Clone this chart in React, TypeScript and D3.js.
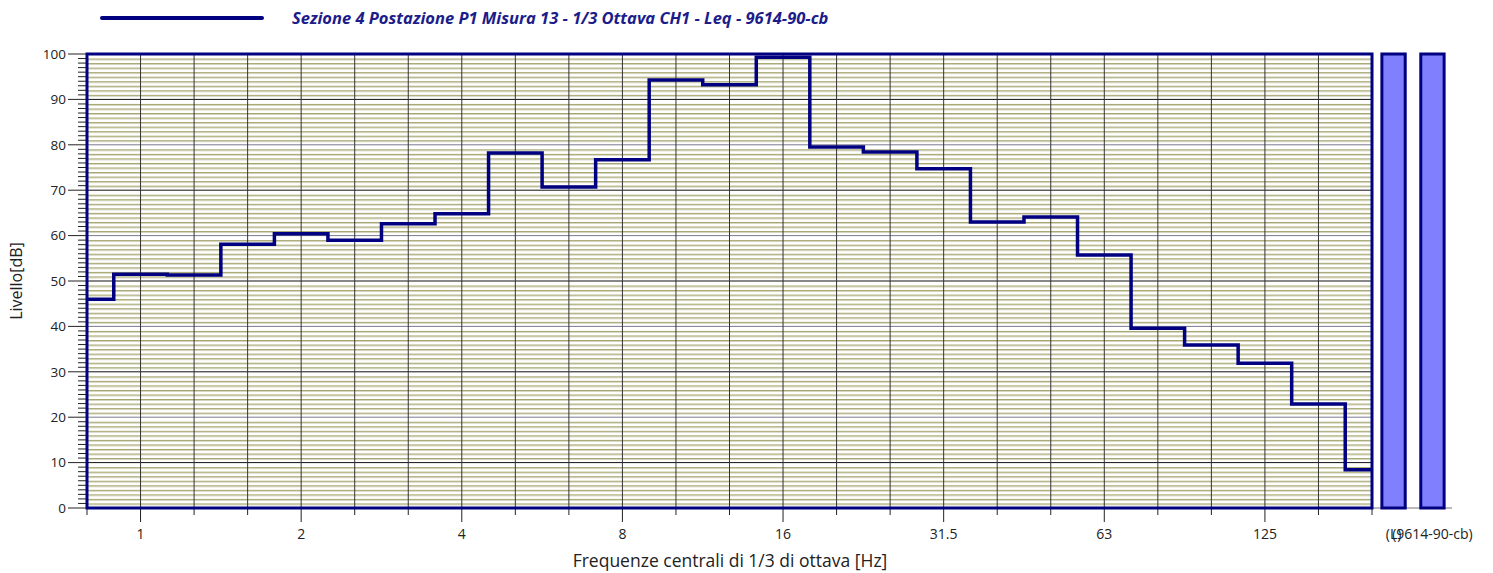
import React from "react";
import * as d3 from "d3";

const bands = ["0.8","1","1.25","1.6","2","2.5","3.15","4","5","6.3","8","10","12.5","16","20","25","31.5","40","50","63","80","100","125","160","200"];
const levels = [46.0,51.5,51.3,58.1,60.4,59.0,62.6,64.8,78.2,70.7,76.7,94.3,93.2,99.3,79.5,78.4,74.7,63.0,64.1,55.7,39.6,35.9,31.9,22.9,8.4];
const labeledBands = ["1","2","4","8","16","31.5","63","125"];
const totalLabels = ["(L)", "(9614-90-cb)"];
const totalValues = [100, 100];
const yMajorTicks = [0,10,20,30,40,50,60,70,80,90,100];
const legendText = "Sezione 4 Postazione P1 Misura 13 - 1/3 Ottava CH1 - Leq - 9614-90-cb";

const W = 1493, H = 573;
const L = 87, R = 1372, T = 54, B = 508;
const FONT = "'Open Sans', 'DejaVu Sans', sans-serif";
const NAVY = "#000080";

export default function App() {
  const x = d3.scaleLinear().domain([0, bands.length - 1]).range([L, R]);
  const y = d3.scaleLinear().domain([0, 100]).range([B, T]);
  const xt = d3.scaleBand().domain(totalLabels).range([1378, 1448]).paddingInner(0.4).paddingOuter(0.1);

  const clamp = (v: number) => Math.max(L, Math.min(R, v));
  const pts: [number, number][] = [];
  levels.forEach((v, i) => {
    pts.push([clamp(x(i - 0.5)), y(v)]);
    pts.push([clamp(x(i + 0.5)), y(v)]);
  });
  const line = d3.line<[number, number]>().x(d => d[0]).y(d => d[1]);

  const minor = d3.range(1, 100).filter(v => v % 10 !== 0);

  return (
    <svg width={W} height={H} style={{ position: "absolute", left: 0, top: 0 }} fontFamily={FONT}>
      <rect width={W} height={H} fill="#fff" />
      {/* legend */}
      <line x1={102} x2={262} y1={18} y2={18} stroke={NAVY} strokeWidth={4} strokeLinecap="round" />
      <text x={292} y={24} fontSize={16.5} fontWeight="bold" fontStyle="italic" fill="#1c1c8a">{legendText}</text>

      {/* minor horizontal grid */}
      {minor.map(v => (
        <g key={v}>
          <line x1={L} x2={R} y1={y(v) + 1.5} y2={y(v) + 1.5} stroke="#d6d6c4" strokeWidth={1} />
          <line x1={L} x2={R} y1={y(v) + 0.5} y2={y(v) + 0.5} stroke="#9a9a5a" strokeWidth={0.9} />
        </g>
      ))}
      {yMajorTicks.map(v => (
        <line key={v} x1={L} x2={R} y1={y(v)} y2={y(v)} stroke={v % 20 === 0 ? "#7a7a90" : "#111"} strokeWidth={1} />
      ))}
      {/* vertical grid */}
      {bands.map((b, i) => (
        <line key={b} x1={x(i)} x2={x(i)} y1={T} y2={B} stroke="#333" strokeWidth={1} />
      ))}

      {/* y ticks */}
      {d3.range(0, 101).map(v => (
        <line key={v} x1={v % 10 === 0 ? 68 : 78} x2={L} y1={y(v)} y2={y(v)} stroke="#222" strokeWidth={1} />
      ))}
      {yMajorTicks.map(v => (
        <text key={v} x={66} y={y(v)} dy="0.35em" textAnchor="end" fontSize={13.5} fill="#222">{v}</text>
      ))}

      {/* x ticks */}
      <line x1={L} x2={1452} y1={B} y2={B} stroke="#777" strokeWidth={1} />
      {bands.map((b, i) => {
        const lab = labeledBands.includes(b);
        return (
          <g key={b}>
            <line x1={x(i)} x2={x(i)} y1={B} y2={lab ? 522 : 515} stroke="#222" strokeWidth={1} />
            {lab && <text x={x(i)} y={539} textAnchor="middle" fontSize={14} fill="#222">{b}</text>}
          </g>
        );
      })}
      {totalLabels.map(t => (
        <text key={t} x={xt(t)! + xt.bandwidth() / 2} y={539} textAnchor="middle" fontSize={14} fill="#222">{t}</text>
      ))}

      {/* plot border */}
      <rect x={L} y={T} width={R - L} height={B - T} fill="none" stroke={NAVY} strokeWidth={3} />

      {/* step line */}
      <path d={line(pts) || ""} fill="none" stroke={NAVY} strokeWidth={3.5} strokeLinejoin="miter" />

      {/* total bars */}
      {totalLabels.map((t, i) => (
        <rect key={t} x={xt(t)!} y={y(totalValues[i])} width={xt.bandwidth()} height={B - y(totalValues[i])}
          fill="#8080ff" stroke={NAVY} strokeWidth={3} />
      ))}

      {/* axis titles */}
      <text x={730} y={567} textAnchor="middle" fontSize={17.5} fill="#222">Frequenze centrali di 1/3 di ottava [Hz]</text>
      <text transform={`translate(22,${(T + B) / 2}) rotate(-90)`} textAnchor="middle" fontSize={16} fill="#222">Livello[dB]</text>
    </svg>
  );
}
